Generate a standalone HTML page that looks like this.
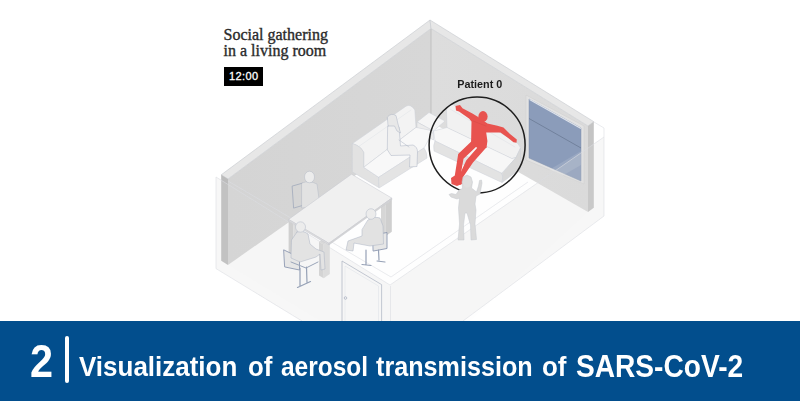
<!DOCTYPE html>
<html><head><meta charset="utf-8"><style>
html,body{margin:0;padding:0;background:#fff;width:800px;height:401px;overflow:hidden;}
#wrap{position:relative;width:800px;height:401px;}
svg{position:absolute;left:0;top:0;filter:blur(0.3px);}
.t1{position:absolute;left:223.5px;top:27px;font-family:"Liberation Serif",serif;font-size:16px;line-height:15.8px;color:#2a2a2a;white-space:nowrap;-webkit-text-stroke:0.35px #2a2a2a;}
.tm{position:absolute;left:223.5px;top:67px;width:39px;height:18.5px;background:#000;}
.tmt{position:absolute;left:229px;top:68.5px;font-family:"Liberation Sans",sans-serif;font-size:11px;line-height:15px;color:#fff;letter-spacing:0.4px;-webkit-text-stroke:0.3px #fff;}
#banner{position:absolute;left:0;top:321px;width:800px;height:80px;background:#024e8d;}
.num{position:absolute;left:30px;top:338px;font-family:"Liberation Sans",sans-serif;font-weight:bold;font-size:46px;line-height:46px;color:#fff;transform:scaleX(0.9);transform-origin:0 0;}
.bar{position:absolute;left:65px;top:336px;width:3.5px;height:47px;background:#fff;border-radius:2px;}
.w{position:absolute;top:347px;height:40px;font-family:"Liberation Sans",sans-serif;font-weight:bold;line-height:40px;color:#fff;white-space:nowrap;transform-origin:0 0;}
</style></head><body><div id="wrap">
<svg width="800" height="401" viewBox="0 0 800 401">
<polygon points="431.0,122.0 228.0,265.0 320.0,321.0 470.0,321.0 588.0,212.0" fill="#fefefe"/>
<defs><linearGradient id="lw" x1="0" y1="0" x2="1" y2="0"><stop offset="0" stop-color="#d4d4d4"/><stop offset="1" stop-color="#d7d7d7"/></linearGradient><linearGradient id="rw" x1="0" y1="0" x2="1" y2="0"><stop offset="0" stop-color="#dddddd"/><stop offset="1" stop-color="#dadada"/></linearGradient></defs>
<polygon points="431.0,28.5 228.0,179.0 228.0,265.0 431.0,122.0" fill="url(#lw)"/>
<polygon points="431.0,28.5 588.0,126.0 588.0,212.0 431.0,122.0" fill="url(#rw)"/>
<line x1="431.0" y1="28.5" x2="431.0" y2="122.0" stroke="#b5b5b5" stroke-width="0.7"/>
<polygon points="228.0,179.0 431.0,28.5 430.0,20.0 221.2,174.8" fill="#e7e7e7" stroke="#c6c9ce" stroke-width="0.6" stroke-linejoin="round"/>
<polygon points="431.0,28.5 588.0,126.0 593.8,121.7 430.0,20.0" fill="#e7e7e7" stroke="#c6c9ce" stroke-width="0.6" stroke-linejoin="round"/>
<polygon points="228.0,179.0 221.2,174.8 221.2,260.8 228.0,265.0" fill="#bcbcbc"/>
<polygon points="588.0,126.0 593.8,121.7 593.8,207.7 588.0,212.0" fill="#c4c4c4"/>
<polygon points="526.0,95.0 584.0,126.0 584.0,184.0 526.0,160.0" fill="#e2e2e2" stroke="#cfcfcf" stroke-width="0.5" stroke-linejoin="round"/>
<polygon points="529.0,99.0 581.0,128.0 581.0,181.0 529.0,158.0" fill="#8b9cba" stroke="#8190ad" stroke-width="0.5" stroke-linejoin="round"/>
<line x1="529.5" y1="99.5" x2="581.0" y2="128.5" stroke="#dfe4ec" stroke-width="1.2"/>
<line x1="529.0" y1="118.5" x2="581.0" y2="148.0" stroke="#66758f" stroke-width="0.7"/>
<polygon points="549.0,170.0 581.0,151.0 581.0,165.0 562.0,176.0" fill="#ffffff" opacity="0.12"/>
<text x="457.3" y="87.8" font-family="Liberation Sans" font-weight="bold" font-size="10.8" fill="#1c1c1c">Patient 0</text>
<polygon points="216.0,177.0 390.0,285.0 604.0,137.0 604.0,216.0 463.0,321.0 302.0,321.0 216.0,268.6" fill="#dadada" opacity="0.22"/>
<line x1="216.0" y1="177.0" x2="216.0" y2="268.6" stroke="#dcdee3" stroke-width="0.6"/>
<line x1="216.0" y1="268.6" x2="302.0" y2="321.0" stroke="#dcdee3" stroke-width="0.6"/>
<line x1="604.0" y1="128.0" x2="604.0" y2="216.0" stroke="#dcdee3" stroke-width="0.6"/>
<line x1="594.0" y1="122.0" x2="604.0" y2="128.0" stroke="#dcdee3" stroke-width="0.6"/>
<line x1="604.0" y1="216.0" x2="463.0" y2="321.0" stroke="#dcdee3" stroke-width="0.6"/>
<line x1="228.0" y1="181.0" x2="391.0" y2="277.0" stroke="#dcdee3" stroke-width="0.6"/>
<line x1="216.0" y1="177.0" x2="390.0" y2="285.0" stroke="#dcdee3" stroke-width="0.6"/>
<line x1="391.0" y1="277.0" x2="528.0" y2="182.0" stroke="#dcdee3" stroke-width="0.6"/>
<line x1="390.0" y1="285.0" x2="604.0" y2="137.0" stroke="#dcdee3" stroke-width="0.6"/>
<line x1="390.5" y1="286.0" x2="390.5" y2="321.0" stroke="#dcdee3" stroke-width="0.6"/>
<polygon points="417.0,122.0 429.0,112.5 445.0,121.0 433.5,131.0" fill="#f5f5f5" stroke="#cdd1d9" stroke-width="0.5" stroke-linejoin="round"/>
<polygon points="417.0,122.0 433.5,131.0 433.5,140.0 417.0,131.0" fill="#ececec" stroke="#cdd1d9" stroke-width="0.5" stroke-linejoin="round"/>
<path d="M447,127.5 L446.5,110 Q447.5,103.5 453,104.5 L513.5,140.5 Q519,143 520.5,148 L516,157.5 L512,158.6 Z" fill="#f1f1f1" stroke="#cdd1d9" stroke-width="0.5" stroke-linejoin="round" stroke-linecap="round" />
<path d="M450,109 L515,147" fill="none" stroke="#dcdfe4" stroke-width="0.5" stroke-linejoin="round" stroke-linecap="round" />
<polygon points="433.5,131.0 447.0,127.5 512.0,158.6 516.0,157.5 502.0,173.5 435.0,141.0" fill="#f7f7f7" stroke="#cdd1d9" stroke-width="0.5" stroke-linejoin="round"/>
<path d="M435,141 L502,173.5 Q503.5,176 502,182.5 L434,151 Q433,145 435,141 Z" fill="#e3e3e3" stroke="#cdd1d9" stroke-width="0.5" stroke-linejoin="round" stroke-linecap="round" />
<path d="M516,157.5 L520.5,148 L520.5,169 L502,182.5 Q503.5,176 502,173.5 Z" fill="#d9d9d9" stroke="#cdd1d9" stroke-width="0.5" stroke-linejoin="round" stroke-linecap="round" />
<path d="M352.5,143.6 L406,106.2 Q410.5,103.5 414.8,110 L416,127.4 L363.7,167.3 L363.7,152.4 Q361,146 352.5,143.6 Z" fill="#f3f3f3" stroke="#cdd1d9" stroke-width="0.5" stroke-linejoin="round" stroke-linecap="round" />
<path d="M358,147 L411,110" fill="none" stroke="#dfe2e7" stroke-width="0.5" stroke-linejoin="round" stroke-linecap="round" />
<path d="M352.5,143.6 Q361,146 363.7,152.4 L363.7,167.3 L378.7,177.3 L378.7,187.5 L352.5,172 Z" fill="#e2e2e2" stroke="#cdd1d9" stroke-width="0.5" stroke-linejoin="round" stroke-linecap="round" />
<polygon points="363.7,167.3 416.0,127.4 433.5,131.0 424.0,148.0 378.7,177.3" fill="#f8f8f8" stroke="#cdd1d9" stroke-width="0.5" stroke-linejoin="round"/>
<path d="M378.7,177.3 L424,148 Q427,152 427,158 L379,188 Q378.5,181 378.7,177.3 Z" fill="#e4e4e4" stroke="#cdd1d9" stroke-width="0.5" stroke-linejoin="round" stroke-linecap="round" />
<path d="M388,126 Q393,123.5 399,127 L400.5,146 L413,145 Q417.5,147 417.5,152 L417,166.5 L409.5,167 L410,155 L391,155.5 L387.5,150 Z" fill="#f0f0f0" stroke="#aab2c2" stroke-width="0.5" stroke-linejoin="round" stroke-linecap="round" />
<path d="M387.5,117 Q391,112.5 396,115.5 L398,124 L400.5,133 L397,131 L394.5,126 L388.5,126 Z" fill="#e8e8e8" stroke="#aab2c2" stroke-width="0.5" stroke-linejoin="round" stroke-linecap="round" />
<path d="M399,140 L409,147" fill="none" stroke="#aab2c2" stroke-width="0.5" stroke-linejoin="round" stroke-linecap="round" />
<path d="M292.5,186 L303,183 L304,205 L294,208 Z" fill="none" stroke="#9aa4b8" stroke-width="0.7" stroke-linejoin="round" stroke-linecap="round" />
<path d="M302,183 Q309,180 317,184 L320,206 L302,208 Z" fill="#e2e2e2" stroke="#b4bac6" stroke-width="0.5" stroke-linejoin="round" stroke-linecap="round" />
<ellipse cx="309.5" cy="177" rx="5" ry="5.8" fill="#ececec" stroke="#b4bac6" stroke-width="0.5"/>
<polygon points="294.7,216.8 299.4,219.5 293.3,223.9 288.6,221.1" fill="#d8d8d8"/>
<polygon points="288.6,221.1 293.3,223.9 293.3,255.7 288.6,253.0" fill="#d0d0d0"/>
<polygon points="299.4,219.5 293.3,223.9 293.3,255.7 299.4,251.4" fill="#dcdcdc"/>
<polygon points="387.1,197.0 391.8,199.8 385.8,204.2 381.0,201.4" fill="#d8d8d8"/>
<polygon points="381.0,201.4 385.8,204.2 385.8,236.1 381.0,233.4" fill="#d6d6d6"/>
<polygon points="391.8,199.8 385.8,204.2 385.8,236.1 391.8,231.8" fill="#cfcfcf"/>
<polygon points="325.1,237.4 329.8,240.2 323.7,244.6 319.0,241.8" fill="#d8d8d8"/>
<polygon points="319.0,241.8 323.7,244.6 323.7,278.3 319.0,275.6" fill="#d4d4d4"/>
<polygon points="329.8,240.2 323.7,244.6 323.7,278.3 329.8,274.0" fill="#dcdcdc"/>
<polygon points="351.5,174.2 391.8,198.1 328.9,243.3 288.6,219.4" fill="#f0f0f0" stroke="#c6c9d0" stroke-width="0.5" stroke-linejoin="round"/>
<polygon points="288.6,219.4 328.9,243.3 328.9,245.0 288.6,221.1" fill="#dcdcdc" stroke="#c6c9d0" stroke-width="0.5" stroke-linejoin="round"/>
<polygon points="391.8,198.1 328.9,243.3 328.9,245.0 391.8,199.8" fill="#d4d4d4" stroke="#c6c9d0" stroke-width="0.5" stroke-linejoin="round"/>
<path d="M284,250 L299.5,257.5 L299.5,270 L285,267 Z" fill="#e6e6e6" stroke="#8d99b1" stroke-width="0.9" stroke-linejoin="round" stroke-linecap="round" />
<path d="M297,232 L291.5,240 L291,258 L300,262 L316,257 L320,254 L321,270 L325,269 L324,252 L316,249 L310,244 L308,234 Q303,230 297,232 Z" fill="#e3e3e3" stroke="#aab2c2" stroke-width="0.5" stroke-linejoin="round" stroke-linecap="round" />
<ellipse cx="300.5" cy="227" rx="5" ry="5.2" fill="#ececec" stroke="#b0b8c6" stroke-width="0.5"/>
<path d="M291,262 L306,268 L318,262" fill="none" stroke="#9aa5b9" stroke-width="1.0" stroke-linejoin="round" stroke-linecap="round" />
<path d="M300,268 L300,286 M306.5,267 L307,283 M297.5,287.5 L310.5,281.5" fill="none" stroke="#96a1b6" stroke-width="1.2" stroke-linejoin="round" stroke-linecap="round" />
<path d="M373,235 L387,232.5 L387,248.5 L373.5,251 Z" fill="#e6e6e6" stroke="#8d99b1" stroke-width="0.9" stroke-linejoin="round" stroke-linecap="round" />
<path d="M368,220 Q374,216 380,218 L383,226 L383.5,244 L370,246 L354,243 L353,251 L346,250 L348,241 L362,236 L362,230 Z" fill="#e2e2e2" stroke="#aab2c2" stroke-width="0.5" stroke-linejoin="round" stroke-linecap="round" />
<ellipse cx="371" cy="214" rx="5" ry="5.3" fill="#ececec" stroke="#b0b8c6" stroke-width="0.5"/>
<path d="M366,250 L366,264 M378.5,250 L379,260 M362,264.5 L371,265.5 M377,261 L385,262" fill="none" stroke="#96a1b6" stroke-width="1.2" stroke-linejoin="round" stroke-linecap="round" />
<polygon points="455.5,106.0 460.0,105.0 462.5,108.3 472.4,113.5 479.0,117.5 487.4,123.5 497.4,125.8 503.5,127.5 510.0,134.0 516.8,139.5 516.5,142.8 513.5,142.3 507.5,137.5 500.5,132.5 486.2,132.4 487.4,141.0 486.5,148.0 478.0,148.5 471.0,143.0 471.2,137.4 471.5,121.5 469.0,118.5 459.0,111.5 456.0,110.5" fill="#e8534f"/>
<polygon points="471.0,141.8 477.5,145.5 463.5,158.8 460.5,176.0 463.0,183.5 457.0,186.0 451.5,184.0 451.0,178.0 454.8,175.5 458.2,154.0" fill="#e8534f"/>
<polygon points="486.5,147.3 473.0,162.6 463.5,176.5 464.0,183.0 459.5,185.0 459.0,176.0 466.2,160.5 477.5,147.5" fill="#e8534f"/>
<ellipse cx="483" cy="116.5" rx="4.6" ry="5.4" fill="#e8534f"/>
<path d="M473,121 L486,126" fill="none" stroke="#d54a46" stroke-width="0.5" stroke-linejoin="round" stroke-linecap="round" />
<circle cx="477.1" cy="145" r="48" fill="none" stroke="#1e1e1e" stroke-width="1.5"/>
<polygon points="467.0,175.0 471.0,177.0 472.5,182.0 471.5,188.0 474.0,190.0 476.5,192.0 478.5,186.0 479.5,180.5 481.5,180.0 482.0,183.0 480.0,194.0 476.0,196.0 475.0,204.0 476.0,210.0 475.0,224.0 476.5,239.5 471.0,240.0 470.5,225.0 467.0,213.0 465.0,213.0 463.5,225.0 464.0,240.0 458.0,240.0 459.5,224.0 458.5,208.0 459.5,198.0 457.0,199.0 451.0,197.0 449.0,194.5 451.5,193.5 456.0,194.5 459.0,190.0 462.5,188.5 462.0,182.0 463.0,177.0" fill="#dadada" stroke="#c4c8cf" stroke-width="0.5" stroke-linejoin="round"/>
<ellipse cx="467.2" cy="182" rx="4.3" ry="5.8" fill="#dedede"/>
<path d="M342,321 L342,261 L381.6,284.6 L381.6,321" fill="none" stroke="#b4bac7" stroke-width="0.8" stroke-linejoin="round" stroke-linecap="round" />
<path d="M345,321 L345,266 L378.5,286 L378.5,321" fill="none" stroke="#dde0e6" stroke-width="0.5" stroke-linejoin="round" stroke-linecap="round" />
<circle cx="345.5" cy="298" r="1.3" fill="none" stroke="#9aa3b5" stroke-width="0.6"/>
</svg>
<div class="t1">Social gathering<br>in a living room</div>
<div class="tm"></div><div class="tmt">12:00</div>
<div id="banner"></div>
<div class="num">2</div>
<div class="bar"></div>
<span class="w" style="left:79.0px;font-size:27px;transform:scaleX(0.962)">Visualization</span>
<span class="w" style="left:247.9px;font-size:27px;transform:scaleX(0.956)">of</span>
<span class="w" style="left:281.0px;font-size:27px;transform:scaleX(0.906)">aerosol</span>
<span class="w" style="left:376.0px;font-size:27px;transform:scaleX(0.932)">transmission</span>
<span class="w" style="left:541.5px;font-size:27px;transform:scaleX(0.959)">of</span>
<span class="w" style="left:576.0px;font-size:31px;transform:scaleX(0.907)">SARS-CoV-2</span>
</div></body></html>
